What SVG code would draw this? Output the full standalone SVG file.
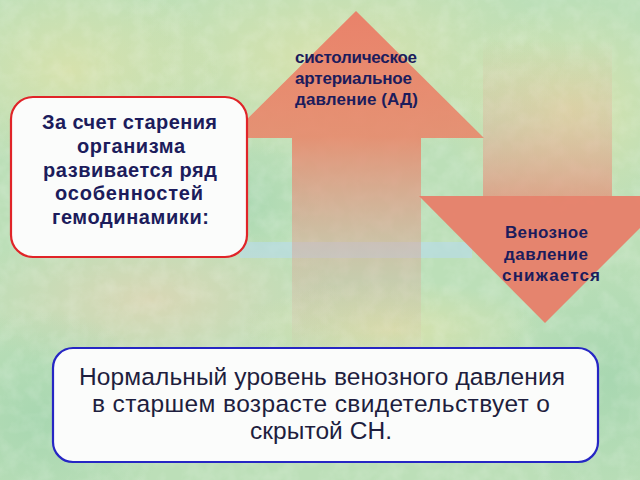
<svg xmlns="http://www.w3.org/2000/svg" width="640" height="480" viewBox="0 0 640 480">
  <defs>
    <style>
      .bold { font-family: "Liberation Sans", Arial, sans-serif; font-weight: bold; fill: #1c1c5c; }
      .boxtxt { font-size: 20px; }
      .arrtxt { font-size: 17px; }
      .reg { font-family: "Liberation Sans", Arial, sans-serif; font-size: 24.5px; fill: #1e1e3e; text-anchor: middle; }
      .box { fill: #fbfcfb; stroke-width: 2.2; }
    </style>
    <radialGradient id="bgY" cx="0.5" cy="0.5" r="0.5">
      <stop offset="0" stop-color="#dde2aa" stop-opacity="0.8"/>
      <stop offset="1" stop-color="#dde2aa" stop-opacity="0"/>
    </radialGradient>
    <radialGradient id="bgP" cx="0.5" cy="0.5" r="0.5">
      <stop offset="0" stop-color="#e2d4b4" stop-opacity="0.75"/>
      <stop offset="1" stop-color="#e2d4b4" stop-opacity="0"/>
    </radialGradient>
    <radialGradient id="bgG" cx="0.5" cy="0.5" r="0.5">
      <stop offset="0" stop-color="#a6d6b0" stop-opacity="0.9"/>
      <stop offset="1" stop-color="#a6d6b0" stop-opacity="0"/>
    </radialGradient>
    <linearGradient id="upGrad" gradientUnits="userSpaceOnUse" x1="0" y1="11" x2="0" y2="370">
      <stop offset="0" stop-color="#ea7f68" stop-opacity="0.97"/>
      <stop offset="0.35" stop-color="#ea8468" stop-opacity="0.85"/>
      <stop offset="0.65" stop-color="#e09a8c" stop-opacity="0.42"/>
      <stop offset="1" stop-color="#dcb0a8" stop-opacity="0"/>
    </linearGradient>
    <linearGradient id="downGrad" gradientUnits="userSpaceOnUse" x1="0" y1="40" x2="0" y2="200">
      <stop offset="0" stop-color="#e8a090" stop-opacity="0"/>
      <stop offset="0.5" stop-color="#e8a090" stop-opacity="0.3"/>
      <stop offset="1" stop-color="#e88a74" stop-opacity="0.7"/>
    </linearGradient>
    <filter id="tex" x="0" y="0" width="100%" height="100%">
      <feTurbulence type="fractalNoise" baseFrequency="0.06" numOctaves="3" seed="4" result="n"/>
      <feColorMatrix in="n" type="matrix" values="0 0 0 0 1  0 0 0 0 1  0 0 0 0 1  0 0 0 -1.2 0.75" result="m"/>
      <feComposite in="m" in2="SourceGraphic" operator="in"/>
    </filter>
  </defs>

  <g id="background">
    <rect x="0" y="0" width="640" height="480" fill="#bcdfb8"/>
    <ellipse cx="330" cy="60" rx="240" ry="100" fill="url(#bgY)"/>
    <ellipse cx="70" cy="70" rx="150" ry="100" fill="url(#bgY)"/>
    <ellipse cx="150" cy="300" rx="190" ry="80" fill="url(#bgP)"/>
    <ellipse cx="570" cy="110" rx="130" ry="110" fill="url(#bgY)"/>
    <ellipse cx="40" cy="420" rx="130" ry="110" fill="url(#bgG)"/>
    <ellipse cx="390" cy="330" rx="150" ry="50" fill="url(#bgY)"/>
    <ellipse cx="610" cy="380" rx="110" ry="130" fill="url(#bgG)"/>
    <ellipse cx="230" cy="200" rx="90" ry="60" fill="url(#bgG)"/>
    <rect x="0" y="0" width="640" height="480" fill="#ffffff" opacity="0.25" filter="url(#tex)"/>
    <rect x="240" y="242" width="232" height="16" fill="#b8dcec" opacity="0.6"/>
  </g>

  <g id="arrow-up">
    <polygon points="356,11 484,138 421,138 421,372 292,372 292,138 228,138" fill="url(#upGrad)"/>
  </g>

  <g id="arrow-down">
    <polygon points="483,40 612,40 612,196 483,196" fill="url(#downGrad)"/>
    <polygon points="419,196 672,196 545,323" fill="#e87c67" opacity="0.92"/>
  </g>

  <g id="label-up">
    <text class="bold arrtxt" x="295" y="63" textLength="122" lengthAdjust="spacing">систолическое</text>
    <text class="bold arrtxt" x="295" y="84" textLength="117" lengthAdjust="spacing">артериальное</text>
    <text class="bold arrtxt" x="295" y="105" textLength="123" lengthAdjust="spacing">давление (АД)</text>
  </g>

  <g id="label-down">
    <text class="bold arrtxt" x="505" y="238" textLength="83" lengthAdjust="spacing">Венозное</text>
    <text class="bold arrtxt" x="504" y="260" textLength="84" lengthAdjust="spacing">давление</text>
    <text class="bold arrtxt" x="502" y="281" textLength="98" lengthAdjust="spacing">снижается</text>
  </g>

  <g id="box-left">
    <rect class="box" x="11" y="97" width="236" height="160" rx="22" ry="22" stroke="#e02428"/>
    <text class="bold boxtxt" x="42" y="129" textLength="175" lengthAdjust="spacing">За счет старения</text>
    <text class="bold boxtxt" x="77" y="153" textLength="108" lengthAdjust="spacing">организма</text>
    <text class="bold boxtxt" x="43" y="177" textLength="174" lengthAdjust="spacing">развивается ряд</text>
    <text class="bold boxtxt" x="55" y="200" textLength="148" lengthAdjust="spacing">особенностей</text>
    <text class="bold boxtxt" x="52" y="224" textLength="157" lengthAdjust="spacing">гемодинамики:</text>
  </g>

  <g id="box-bottom">
    <rect class="box" x="53" y="348" width="545" height="114" rx="20" ry="20" stroke="#2626c4"/>
    <text class="reg" x="322" y="385" textLength="486" lengthAdjust="spacing">Нормальный уровень венозного давления</text>
    <text class="reg" x="321" y="412" textLength="458" lengthAdjust="spacing">в старшем возрасте свидетельствует о</text>
    <text class="reg" x="321" y="439" textLength="142" lengthAdjust="spacing">скрытой СН.</text>
  </g>
</svg>
